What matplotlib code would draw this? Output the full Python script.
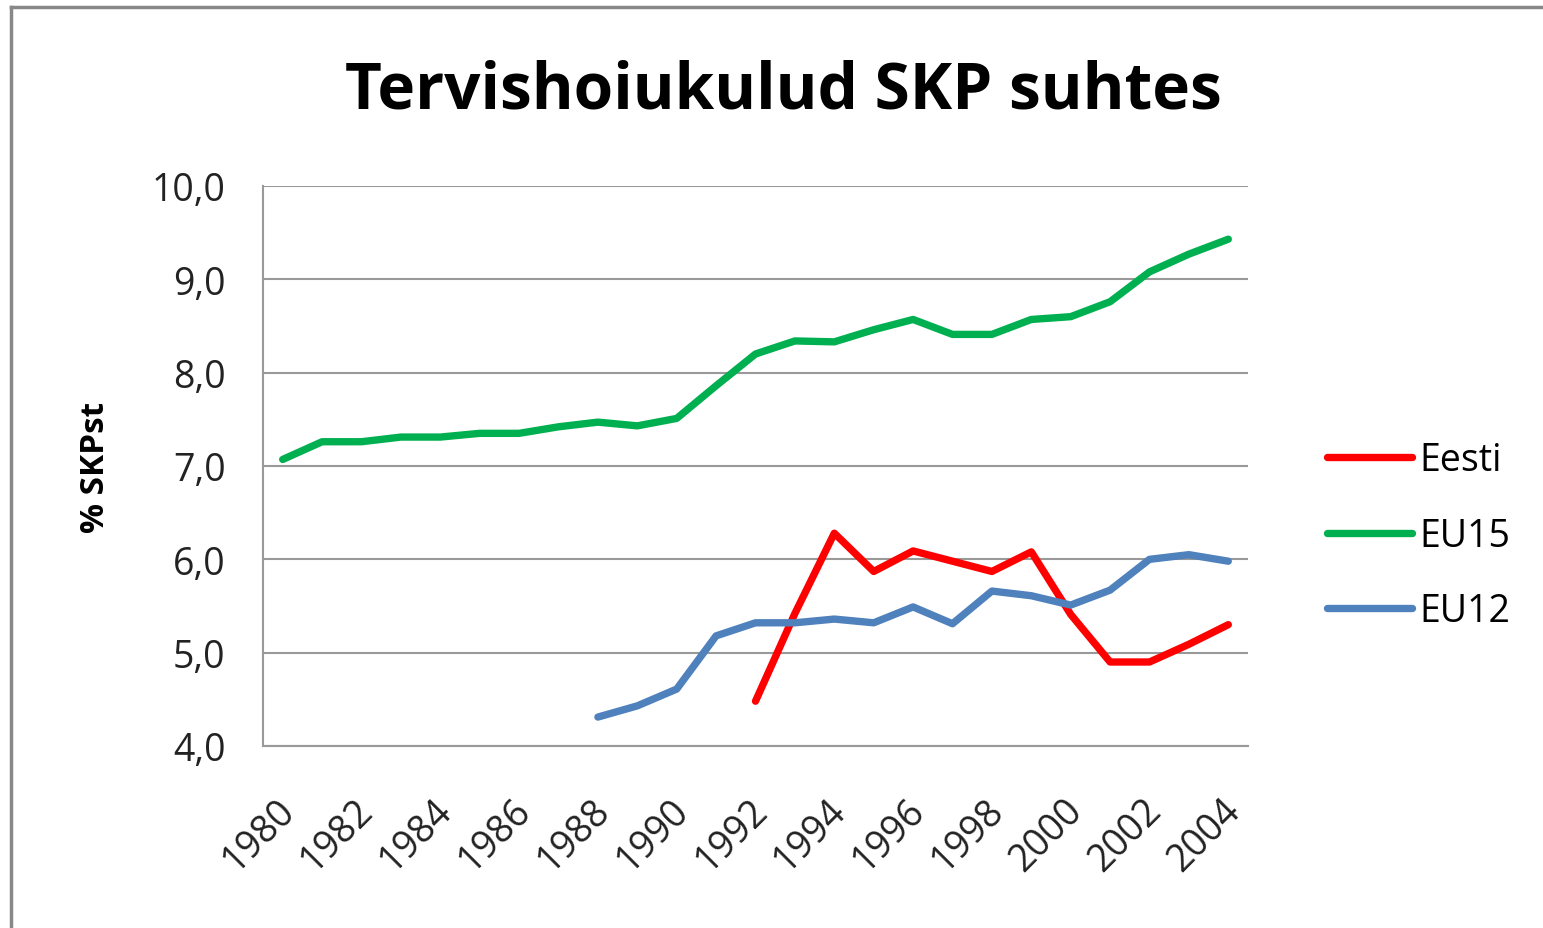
import matplotlib.pyplot as plt
from matplotlib.lines import Line2D
import matplotlib.transforms as mtrans
import numpy as np

years = list(range(1980, 2005))

eesti_years = list(range(1992, 2005))
eesti = [4.48, 5.42, 6.28, 5.87, 6.09, 5.98, 5.87, 6.08, 5.41, 4.9, 4.9, 5.09, 5.3]

eu15 = [7.07, 7.26, 7.26, 7.31, 7.31, 7.35, 7.35, 7.42, 7.47, 7.43, 7.51, 7.86,
        8.2, 8.34, 8.33, 8.46, 8.57, 8.41, 8.41, 8.57, 8.6, 8.76, 9.08, 9.27, 9.43]

eu12_years = list(range(1988, 2005))
eu12 = [4.31, 4.43, 4.61, 5.18, 5.32, 5.32, 5.36, 5.32, 5.49, 5.31, 5.66, 5.61,
        5.51, 5.67, 6.0, 6.05, 5.98]

font = ['Open Sans', 'DejaVu Sans']
plt.rcParams['font.family'] = font

fig = plt.figure(figsize=(15.43, 9.29), dpi=100)
fig.patch.set_facecolor('white')

# outer chart frame
fig.add_artist(Line2D([11 / 1543, 11 / 1543], [0, 1 - 8 / 929], color='#888888', lw=2.5,
                      transform=fig.transFigure))
fig.add_artist(Line2D([11 / 1543, 1], [1 - 8 / 929, 1 - 8 / 929], color='#888888', lw=2.5,
                      transform=fig.transFigure))

ax = fig.add_axes([263 / 1543, 1 - 747 / 929, 985 / 1543, 560 / 929])

x_all = np.arange(len(years))
off_e = years.index(eesti_years[0])
off_12 = years.index(eu12_years[0])

lw = 5.3
ax.plot(np.arange(len(eesti)) + off_e, eesti, color='#FF0000', lw=lw, label='Eesti',
        solid_capstyle='round', solid_joinstyle='round')
ax.plot(x_all, eu15, color='#00B050', lw=lw, label='EU15',
        solid_capstyle='round', solid_joinstyle='round')
ax.plot(np.arange(len(eu12)) + off_12, eu12, color='#4F81BD', lw=lw, label='EU12',
        solid_capstyle='round', solid_joinstyle='round')

ax.set_xlim(-0.5, len(years) - 0.5)
ax.set_ylim(4, 10)
ax.set_yticks(np.arange(4, 10.1, 1))
ax.set_yticklabels([f'{v:.1f}'.replace('.', ',') for v in np.arange(4, 10.1, 1)],
                   fontsize=27, color='#222222')
ax.set_xticks(x_all[::2])
ax.set_xticklabels([str(y) for y in years[::2]], rotation=45, ha='right', va='center',
                   rotation_mode='anchor', fontsize=27, color='#222222')
ax.tick_params(axis='y', length=0, pad=27)
ax.tick_params(axis='x', length=0, pad=42)
shift = mtrans.ScaledTranslation(6 / 100, 0, fig.dpi_scale_trans)
for lab in ax.get_xticklabels():
    lab.set_transform(lab.get_transform() + shift)
ax.grid(axis='y', color='#999999', lw=1.5)
ax.set_axisbelow(True)
for s in ['top', 'right']:
    ax.spines[s].set_visible(False)
for s in ['left', 'bottom']:
    ax.spines[s].set_color('#999999')
    ax.spines[s].set_linewidth(1.5)

ax.set_ylabel('% SKPst', fontsize=24, fontweight='bold')
ax.yaxis.set_label_coords((112 - 263) / 985, 0.5)

fig.text(783 / 1543, 1 - 92 / 929, 'Tervishoiukulud SKP suhtes', ha='center', va='center',
         fontsize=46, fontweight='bold')

ax.legend(loc='center left', bbox_to_anchor=(1327 / 1543, 1 - 537 / 929),
          bbox_transform=fig.transFigure, frameon=False, fontsize=27,
          borderpad=0, borderaxespad=0, handlelength=2.27, handletextpad=0.2,
          labelspacing=1.0)

fig.savefig('out.png', dpi=100)
